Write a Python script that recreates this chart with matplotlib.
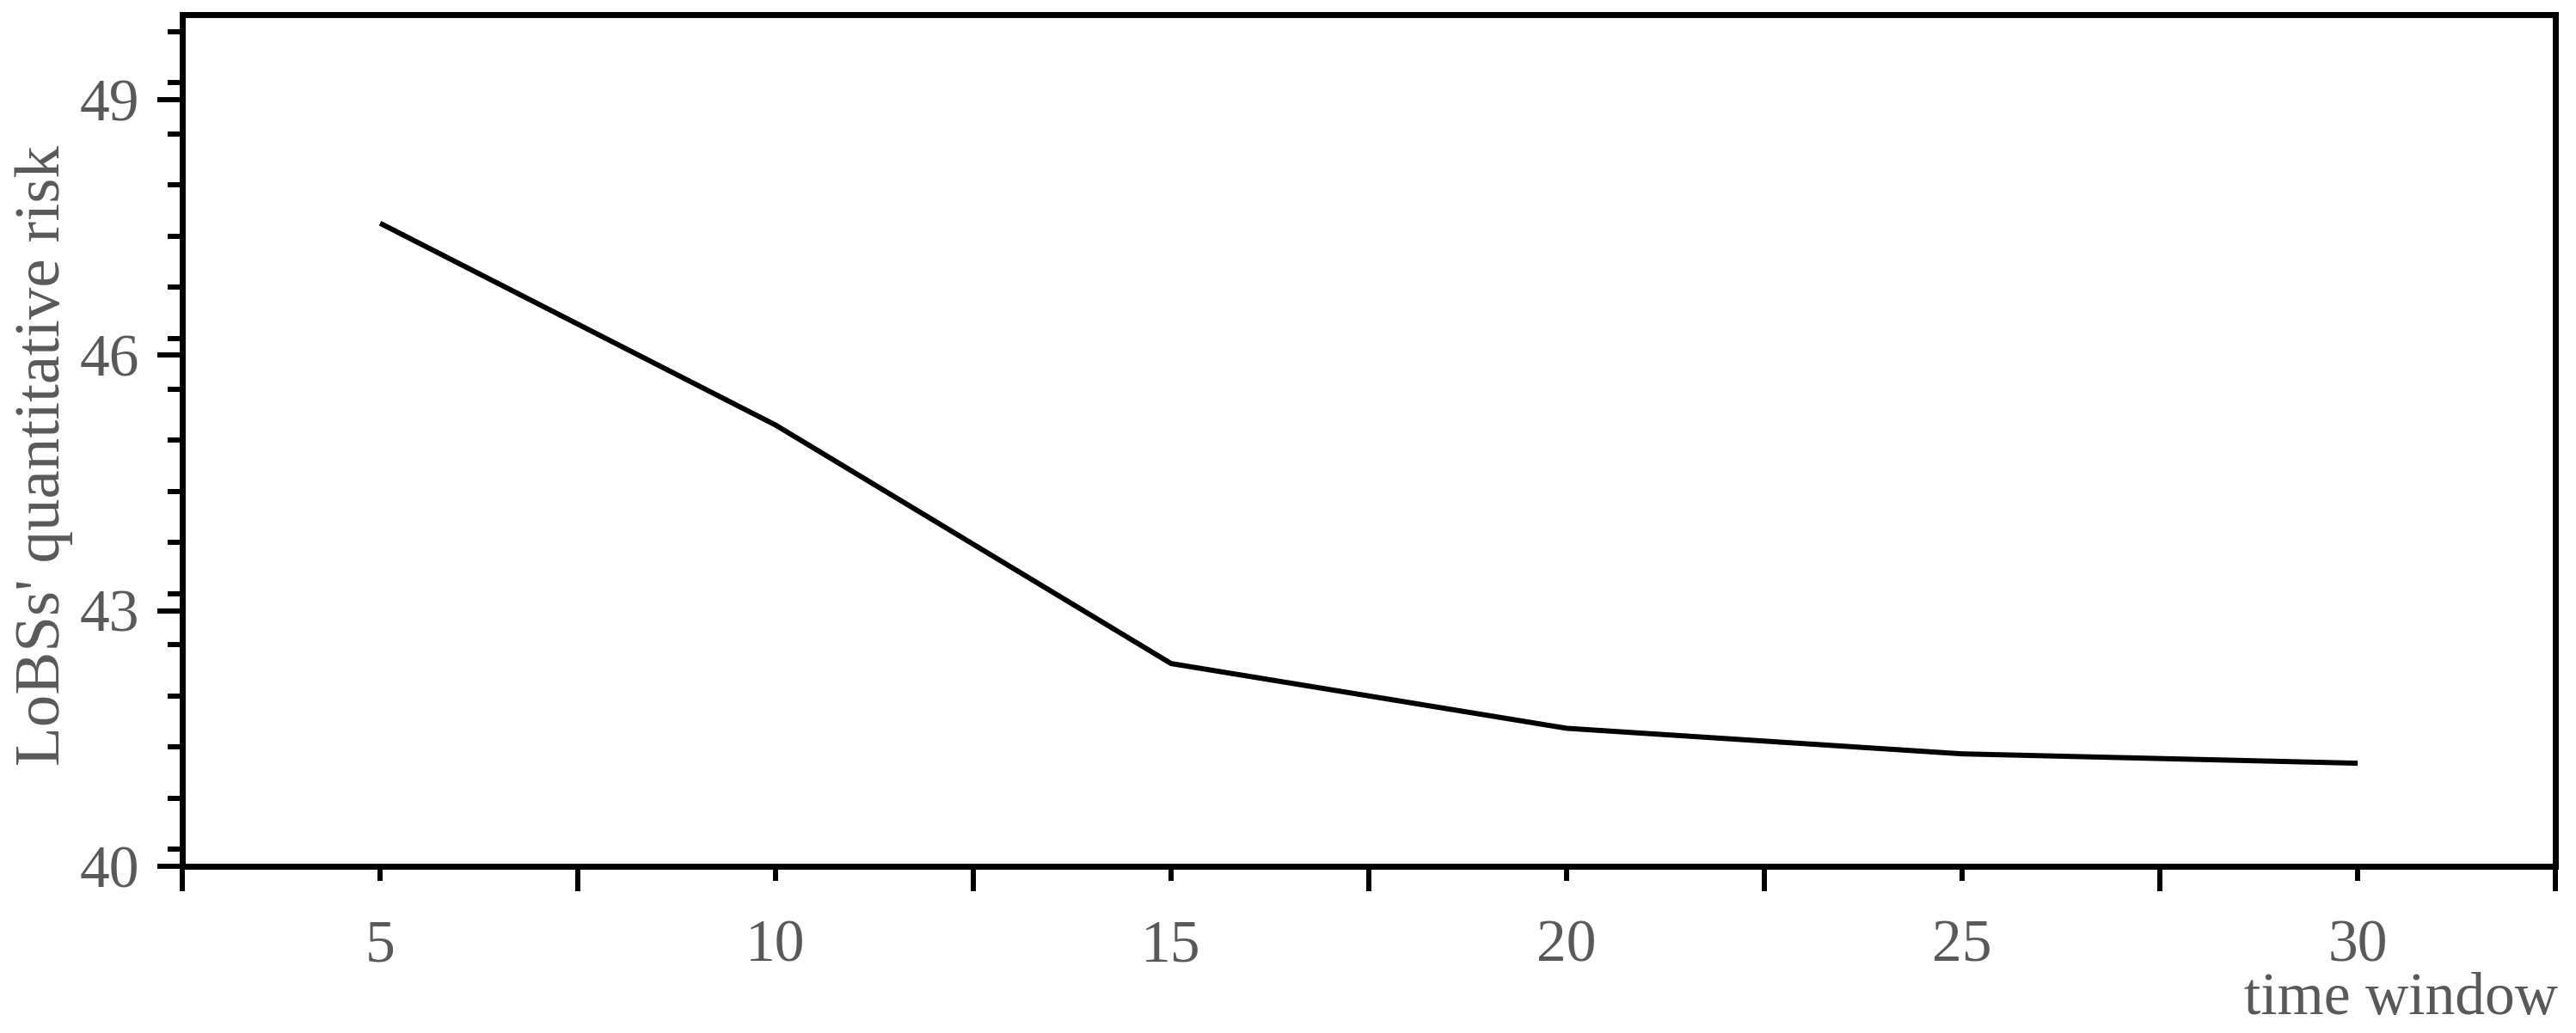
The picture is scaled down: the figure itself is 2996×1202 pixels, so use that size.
import numpy as np
import matplotlib
matplotlib.use('Agg')
import matplotlib.pyplot as plt
from matplotlib.ticker import MultipleLocator, FixedLocator, NullFormatter

# данные
time_window = [5, 10, 15, 20, 25, 30]
risk = [47.55, 45.18, 42.38, 41.62, 41.32, 41.21]
x_labels = ['5', '10', '15', '20', '25', '30']
y_ticks = [40, 43, 46, 49]

TEXT_COLOR = '#595959'
plt.rcParams['font.family'] = ['Liberation Serif', 'DejaVu Serif']

fig = plt.figure(figsize=(29.96, 12.02), dpi=100)
ax = fig.add_axes([0.0708, 0.1614, 0.9212, 0.8245])

# кривая риска
ax.plot(time_window, risk, color='black', lw=4.3, solid_capstyle='butt',
        solid_joinstyle='miter')

ax.set_xlim(2.5, 32.5)
ax.set_ylim(40, 50)

# ось x: подписанные короткие деления и длинные неподписанные между ними
ax.xaxis.set_major_locator(FixedLocator(time_window))
ax.set_xticklabels(x_labels)
ax.xaxis.set_minor_locator(MultipleLocator(5, offset=2.5))
ax.xaxis.set_minor_formatter(NullFormatter())
ax.tick_params(axis='x', which='major', direction='out', length=12.5, width=4.3,
               pad=32, labelsize=50, labelcolor=TEXT_COLOR, top=False)
ax.tick_params(axis='x', which='minor', direction='out', length=21, width=4.3,
               top=False)

# ось y
ax.yaxis.set_major_locator(FixedLocator(y_ticks))
ax.yaxis.set_minor_locator(MultipleLocator(0.6))
ax.yaxis.set_minor_formatter(NullFormatter())
ax.tick_params(axis='y', which='major', direction='out', length=21, width=4.3,
               pad=15, labelsize=50, labelcolor=TEXT_COLOR, right=False)
ax.tick_params(axis='y', which='minor', direction='out', length=12.5, width=4.3,
               right=False)

for side in ['left', 'right', 'top', 'bottom']:
    ax.spines[side].set_linewidth(5)
    ax.spines[side].set_color('black')

# подписи осей
fig.text(0.017, 0.559, "LoBSs' quantitative risk", rotation=90, ha='center',
         va='center', fontsize=54, color=TEXT_COLOR)
fig.text(0.993, 0.0183, 'time window', ha='right', va='baseline',
         fontsize=50, color=TEXT_COLOR)

fig.savefig('out.png', dpi=100)
